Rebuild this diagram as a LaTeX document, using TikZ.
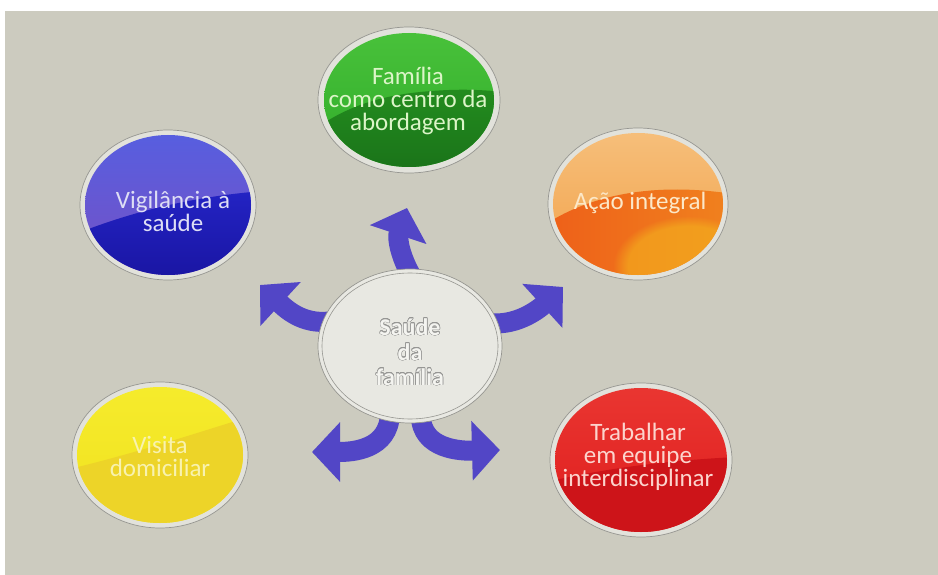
\documentclass[tikz,border=0pt]{standalone}
\usepackage{fontspec}
\setmainfont{Carlito}
\usepackage{contour}
\contourlength{0.45pt}
\usetikzlibrary{shapes.geometric,arrows.meta,calc,fadings}
\pgfdeclarelayer{back}
\pgfdeclarelayer{bg}
\pgfsetlayers{back,bg,main}
\definecolor{paper}{RGB}{204,203,191}
\definecolor{ringfill}{RGB}{226,226,219}
\definecolor{ringline}{RGB}{150,150,145}
\definecolor{gA}{RGB}{75,195,60}
\definecolor{gB}{RGB}{45,170,40}
\definecolor{gC}{RGB}{35,140,30}
\definecolor{gD}{RGB}{25,112,25}
\definecolor{gT}{RGB}{220,245,200}
\definecolor{bA}{RGB}{85,95,225}
\definecolor{bB}{RGB}{120,80,195}
\definecolor{bC}{RGB}{35,35,195}
\definecolor{bD}{RGB}{25,20,160}
\definecolor{bT}{RGB}{222,222,245}
\definecolor{oA}{RGB}{246,192,125}
\definecolor{oB}{RGB}{242,160,70}
\definecolor{oC}{RGB}{238,95,25}
\definecolor{oD}{RGB}{240,130,30}
\definecolor{oY}{RGB}{244,180,30}
\definecolor{oT}{RGB}{252,232,200}
\definecolor{yA}{RGB}{246,236,45}
\definecolor{yB}{RGB}{240,225,30}
\definecolor{yC}{RGB}{237,212,40}
\definecolor{yT}{RGB}{248,242,175}
\definecolor{rA}{RGB}{234,55,50}
\definecolor{rB}{RGB}{222,28,28}
\definecolor{rC}{RGB}{205,20,25}
\definecolor{rT}{RGB}{252,212,205}
\definecolor{arrowblue}{RGB}{82,70,198}
\definecolor{centerfill}{RGB}{232,232,226}
\definecolor{ctext}{RGB}{244,244,240}
\definecolor{cgray}{RGB}{150,150,148}
\begin{document}
\begin{tikzpicture}[x=1pt,y=-1pt,
  ring/.style={fill=ringfill, draw=ringline, line width=0.7pt},
  txt/.style={align=center, font=\fontsize{25}{23}\selectfont, inner sep=0pt},
  arr/.style={draw=arrowblue, line width=20pt, shorten <=-8pt,
    -{Triangle[length=28pt,width=58pt]}},
]
\useasboundingbox (0,0) rectangle (938,575);
\begin{pgfonlayer}{back}
\fill[white] (0,0) rectangle (938,575);
\fill[paper] (5,11) rectangle (938,575);
\end{pgfonlayer}

% green bubble
\fill[ring] (409,100) ellipse [x radius=91, y radius=73];
\begin{scope}[shift={(409,100)}]
  \clip (0,0) ellipse [x radius=85, y radius=67];
  \shade[top color=gA, bottom color=gB] (-95,-80) rectangle (95,80);
  \shade[top color=gC, bottom color=gD] (-95,30) .. controls (-55,0) and (-10,-8) .. (40,-10) .. controls (65,-11) and (85,-9) .. (95,-8) -- (95,80) -- (-95,80) -- cycle;
\end{scope}
\node[txt, text=gT] (fam) at (408,101) {Família\\como centro da\\abordagem};

% blue bubble
\fill[ring] (168,205) ellipse [x radius=88, y radius=75];
\begin{scope}[shift={(168,205)}]
  \clip (0,0) ellipse [x radius=83, y radius=70];
  \shade[top color=bA, bottom color=bB] (-95,-80) rectangle (95,80);
  \shade[top color=bC, bottom color=bD] (-95,30) .. controls (-40,8) and (20,-8) .. (95,-14) -- (95,80) -- (-95,80) -- cycle;
\end{scope}
\node[txt, text=bT] (vig) at (173,211) {Vigilância à\\saúde};

% orange bubble
\fill[ring] (638,204) ellipse [x radius=90, y radius=76];
\begin{scope}[shift={(638,204)}]
  \clip (0,0) ellipse [x radius=85, y radius=71];
  \shade[top color=oA, bottom color=oB] (-95,-80) rectangle (95,80);
  \shade[left color=oC, right color=oD] (-95,22) .. controls (-40,-15) and (30,-20) .. (95,-10) -- (95,80) -- (-95,80) -- cycle;
  \fill[oY, opacity=0.6, path fading=circle with fuzzy edge 20 percent] (50,62) ellipse [x radius=75, y radius=50];
\end{scope}
\node[txt, text=oT] (acao) at (640,203) {Ação integral};

% yellow bubble
\fill[ring] (160,455) ellipse [x radius=88, y radius=73];
\begin{scope}[shift={(160,455)}]
  \clip (0,0) ellipse [x radius=83, y radius=68];
  \shade[top color=yA, bottom color=yB] (-95,-80) rectangle (95,80);
  \fill[yC] (-95,15) .. controls (-30,0) and (30,-20) .. (95,-40) -- (95,80) -- (-95,80) -- cycle;
\end{scope}
\node[txt, text=yT] (visita) at (160,456) {Visita\\domiciliar};

% red bubble
\fill[ring] (641,460) ellipse [x radius=91, y radius=77];
\begin{scope}[shift={(641,460)}]
  \clip (0,0) ellipse [x radius=86, y radius=72];
  \shade[top color=rA, bottom color=rB] (-95,-80) rectangle (95,80);
  \fill[rC] (-95,22) .. controls (-20,5) and (40,0) .. (95,-3) -- (95,80) -- (-95,80) -- cycle;
\end{scope}
\node[txt, text=rT] (trab) at (638,457) {Trabalhar\\em equipe\\interdisciplinar};

% centre
\node[ellipse, minimum width=184pt, minimum height=154pt, inner sep=0pt,
  fill=centerfill, draw=ringline, line width=0.7pt] (c) at (410,346) {};
\draw[ringline, line width=0.6pt] (c.center) ellipse [x radius=88, y radius=73];
\node[txt, text=ctext, font=\fontsize{24}{25}\selectfont\bfseries] (ct) at (410,352)
  {\contour{cgray}{Saúde}\\\contour{cgray}{da}\\\contour{cgray}{família}};

% arrow tips
\coordinate (t1) at (407,208);
\coordinate (t2) at (260,285);
\coordinate (t3) at (563,287);
\coordinate (t4) at (312,452);
\coordinate (t5) at (500,450);

\begin{pgfonlayer}{bg}
\draw[arr] (c.92) .. controls (400,256) and (397,238) .. (t1);
\draw[arr] (c.165) .. controls (302,325) and (285,308) .. (t2);
\draw[arr] (c.14) .. controls (518,326) and (540,308) .. (t3);
\draw[arr] (c.255) .. controls (389,450) and (352,452) .. (t4);
\draw[arr] (c.278) .. controls (421,450) and (462,451) .. (t5);
\end{pgfonlayer}
\end{tikzpicture}
\end{document}
